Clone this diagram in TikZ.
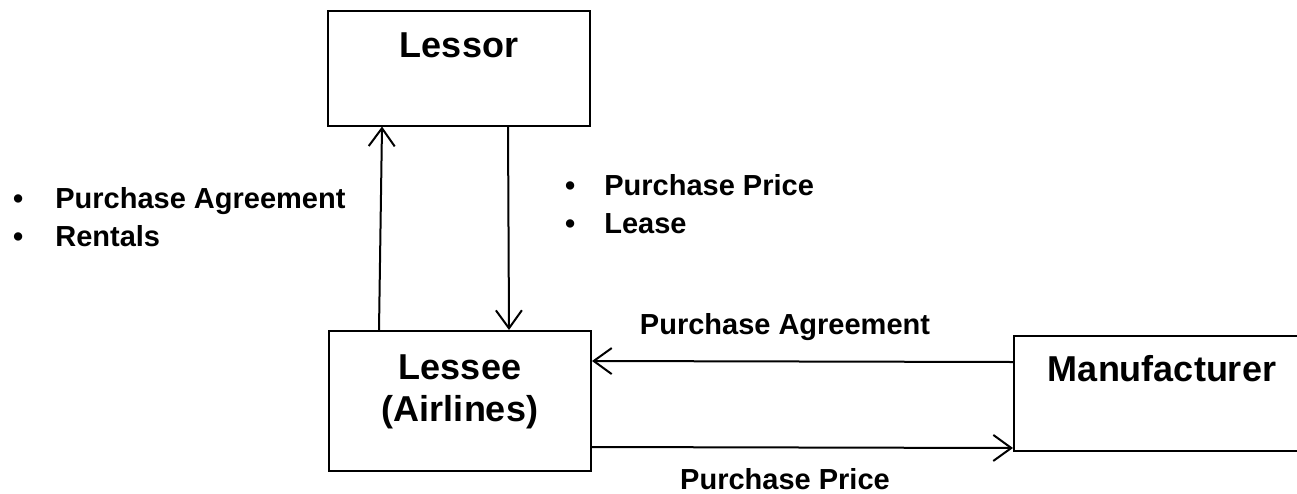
\documentclass[tikz,border=0pt]{standalone}
\usepackage{fontspec}
\setmainfont{Liberation Sans}
\usepackage{tikz}
\usetikzlibrary{positioning, arrows.meta}

\begin{document}
\begin{tikzpicture}[
  x=1pt, y=-1pt,
  box/.style={draw, line width=2pt, rectangle, inner sep=0pt},
  title/.style={font=\fontsize{36}{42}\selectfont\bfseries, align=center},
  lbl/.style={font=\fontsize{29}{38}\selectfont\bfseries, align=left, inner sep=0pt},
  arrow/.style={-{Straight Barb[length=18pt, width=26pt, line width=2pt]}, line width=2pt}
]
\useasboundingbox (0,0) rectangle (1297,493);

% ===== Boxes =====
\node[box, minimum width=262pt, minimum height=115pt] at (459,68) (lessor) {};
\node[title] at (459,45) (lessortxt) {Lessor};

\node[box, minimum width=262pt, minimum height=140pt] at (460,401) (lessee) {};
\node[title] at (460,392) (lesseetxt) {Lessee\\(Airlines)};

\node[box, minimum width=290pt, minimum height=115pt, anchor=north west] at (1013,335) (mfr) {};
\node[title] at (1162,369) (mfrtxt) {Manufacturer};

% ===== Arrows between Lessor and Lessee =====
\draw[arrow] ([xshift=51pt]lessee.north west) -- ([xshift=55pt]lessor.south west);
\draw[arrow] ([xshift=181pt]lessor.south west) -- ([xshift=181pt]lessee.north west);

% ===== Arrows between Lessee and Manufacturer =====
\draw[arrow] ([yshift=-27pt]mfr.north west) -- ([yshift=-31pt]lessee.north east);
\draw[arrow] ([yshift=25pt]lessee.south east) -- ([yshift=4pt]mfr.south west);

% ===== Labels =====
\node[lbl, anchor=west] at (13,217) (leftlbl) {\textbullet\hspace{32pt}Purchase Agreement\\\textbullet\hspace{32pt}Rentals};
\node[lbl, anchor=west] at (565,204) (rightlbl) {\textbullet\hspace{29pt}Purchase Price\\\textbullet\hspace{29pt}Lease};
\node[lbl] at (785,327) (agrlbl) {Purchase Agreement};
\node[lbl] at (785,479) (pricelbl) {Purchase Price};

\end{tikzpicture}
\end{document}
